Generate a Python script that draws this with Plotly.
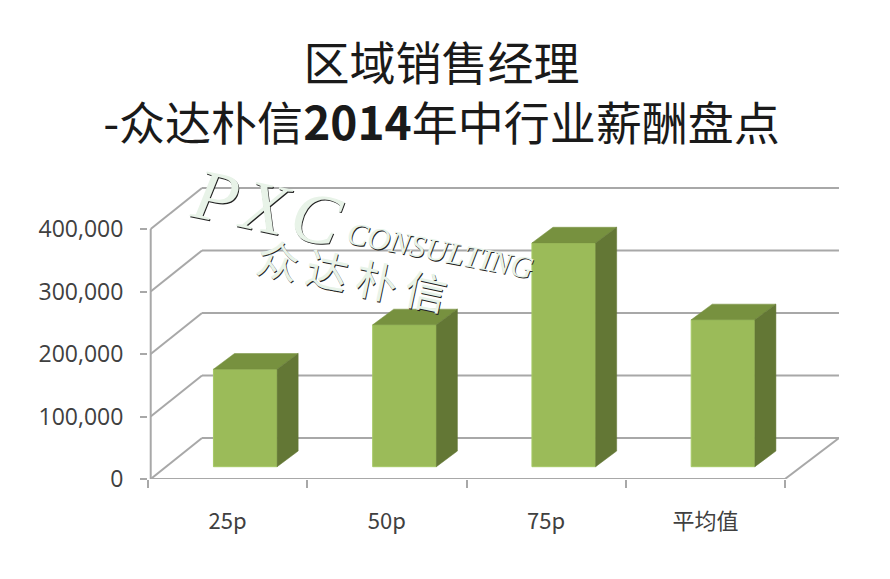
import plotly.graph_objects as go

categories = ["25p", "50p", "75p", "平均值"]
values = [156000, 227000, 358000, 235000]
y_ticks = [0, 100000, 200000, 300000, 400000]
y_tick_labels = ["0", "100,000", "200,000", "300,000", "400,000"]
x_boundaries = [0, 1, 2, 3, 4]
x_centers = [0.5, 1.5, 2.5, 3.5]

GRID = "#a8a8a8"
FONT = "Noto Sans CJK SC"
depth_x, depth_y = 0.339, 65600
bar_shift_x, bar_shift_y = 0.111, 19700
bar_depth_x, bar_depth_y = 0.132, 25100
bar_w = 0.40
wall_x = 0.017

fig = go.Figure()
fig.add_trace(go.Bar(
    x=[c + bar_shift_x for c in x_centers], y=values, base=bar_shift_y, width=bar_w,
    marker=dict(color="#9bbb59", line=dict(color="#a5c865", width=1)),
    hoverinfo="skip", showlegend=False))

for c, v in zip(x_centers, values):
    x0 = c + bar_shift_x - bar_w / 2
    x1 = c + bar_shift_x + bar_w / 2
    b = bar_shift_y
    t = bar_shift_y + v
    fig.add_trace(go.Scatter(
        x=[x0, x1, x1 + bar_depth_x, x0 + bar_depth_x, x0],
        y=[t, t, t + bar_depth_y, t + bar_depth_y, t],
        fill="toself", mode="lines", fillcolor="#77913f",
        line=dict(color="#77913f", width=0.5), hoverinfo="skip", showlegend=False))
    fig.add_trace(go.Scatter(
        x=[x1, x1 + bar_depth_x, x1 + bar_depth_x, x1, x1],
        y=[b, b + bar_depth_y, t + bar_depth_y, t, b],
        fill="toself", mode="lines", fillcolor="#637735",
        line=dict(color="#637735", width=0.5), hoverinfo="skip", showlegend=False))

def seg(x0, y0, x1, y1):
    return dict(type="line", xref="x", yref="y", x0=x0, y0=y0, x1=x1, y1=y1,
                layer="below", line=dict(color=GRID, width=2))

shapes = []
for t in y_ticks:
    shapes.append(seg(wall_x, t, depth_x, t + depth_y))
    shapes.append(seg(depth_x, t + depth_y, x_boundaries[-1] + depth_x, t + depth_y))
shapes.append(seg(wall_x, y_ticks[0], wall_x, y_ticks[-1]))
shapes.append(seg(wall_x, y_ticks[0], x_boundaries[-1], y_ticks[0]))
shapes.append(seg(x_boundaries[-1], y_ticks[0], x_boundaries[-1] + depth_x, y_ticks[0] + depth_y))

def mark(text, px, py, size, family, angle=12):
    return dict(text=text, xref="paper", yref="paper", showarrow=False,
                x=(px - 148) / 691, y=1 - (py - 179) / 300, xanchor="center", yanchor="middle",
                textangle=angle,
                font=dict(family=family, size=size, color="#e8f3e8",
                          shadow="1px 1px 0 #222222"))

annotations = [
    mark("<i>P\u200aX\u200aC</i>", 267, 208, 72, "Liberation Serif", 12),
    mark("<i>CONSULTING</i>", 440, 250, 31, "Liberation Serif", 11),
    mark("众\u2009达\u2009朴\u2009信", 352, 273, 42, FONT, 12),
]

fig.update_layout(
    width=890, height=579,
    margin=dict(l=140, r=59, t=171, b=108, autoexpand=False),
    paper_bgcolor="white", plot_bgcolor="rgba(0,0,0,0)",
    showlegend=False, shapes=shapes, annotations=annotations,
    title=dict(text="区域销售经理<br>-众达朴信<b>2014</b>年中行业薪酬盘点",
               x=0.487, xanchor="center", y=0.876, yanchor="top",
               font=dict(family=FONT, size=46, color="#1a1a1a")),
    xaxis=dict(range=[0, 691 / 159.25], showgrid=False, zeroline=False, showline=False,
               tickmode="array", tickvals=x_centers, ticktext=categories, ticks="",
               ticklabelstandoff=27,
               tickfont=dict(family=FONT, size=22, color="#404040"),
               minor=dict(tickmode="array", tickvals=x_boundaries, ticks="outside",
                          ticklen=8, tickwidth=2, tickcolor=GRID, showgrid=False)),
    yaxis=dict(range=[0, 480000], showgrid=False, zeroline=False, showline=False,
               tickmode="array", tickvals=y_ticks, ticktext=y_tick_labels,
               ticks="outside", ticklen=7, tickwidth=2, tickcolor=GRID,
               ticklabelstandoff=12,
               tickfont=dict(family="Open Sans", size=23, color="#404040")),
)
fig.write_html("out.html")
